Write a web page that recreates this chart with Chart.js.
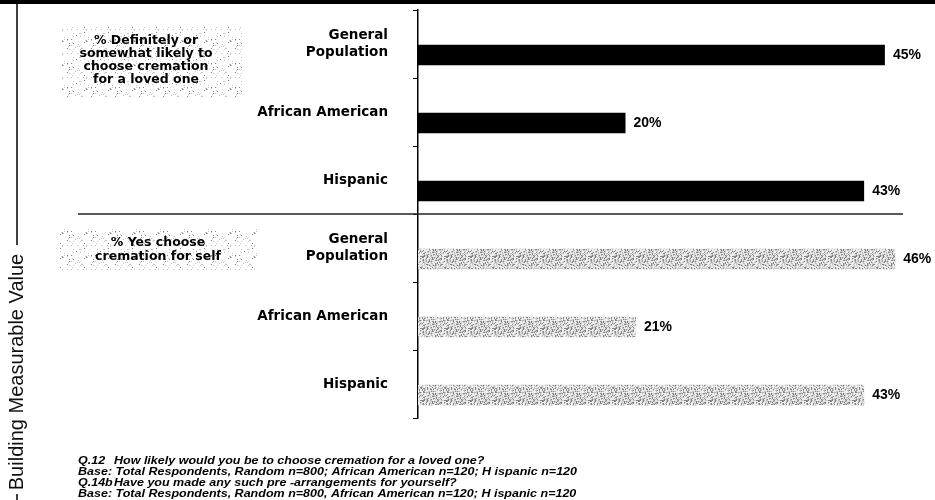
<!DOCTYPE html>
<html>
<head>
<meta charset="utf-8">
<script src="https://cdn.jsdelivr.net/npm/chart.js@4.4.1/dist/chart.umd.min.js"></script>
<style>
  html, body { margin: 0; padding: 0; background: #fff; }
  #wrap { width: 935px; height: 500px; }
</style>
</head>
<body>
<div id="wrap"><canvas id="myChart" width="935" height="500"></canvas></div>
<script>
// data
const categories = [['General', 'Population'], 'African American', 'Hispanic',
                    ['General', 'Population'], 'African American', 'Hispanic'];
const lovedOne = [45, 20, 43];
const forSelf = [46, 21, 43];
const groupTitles = [
    ['% Definitely or', 'somewhat likely to', 'choose cremation', 'for a loved one'],
    ['% Yes choose', 'cremation for self']
];
const sideTitle = 'Building Measurable Value';
const footnotes = [
    ['Q.12', 'How likely would you be to choose cremation for a loved one?'],
    ['', 'Base: Total Respondents, Random n=800; African American n=120; H ispanic n=120'],
    ['Q.14b', 'Have you made any such pre -arrangements for yourself?'],
    ['', 'Base: Total Respondents, Random n=800, African American n=120; H ispanic n=120']
];

const values = lovedOne.concat(forSelf);

// stippled fill like the old scanned slide
function hash(x, y) {
    let h = Math.imul(x + 1, 374761393) ^ Math.imul(y + 7, 668265263);
    h = Math.imul(h ^ (h >>> 13), 1274126177);
    return ((h ^ (h >>> 16)) >>> 0) % 100;
}
function makePattern(ctx, dark, mid, base) {
    const c = document.createElement('canvas');
    c.width = 24; c.height = 24;
    const p = c.getContext('2d');
    if (base) { p.fillStyle = base; p.fillRect(0, 0, 24, 24); }
    for (let y = 0; y < 24; y++) {
        for (let x = 0; x < 24; x++) {
            const h = hash(x, y);
            if (h < dark) { p.fillStyle = '#858585'; p.fillRect(x, y, 1, 1); }
            else if (h < mid) { p.fillStyle = '#c2c2c2'; p.fillRect(x, y, 1, 1); }
        }
    }
    return ctx.createPattern(c, 'repeat');
}

const canvas = document.getElementById('myChart');
const ctx = canvas.getContext('2d');
const barStipple = makePattern(ctx, 18, 45, '#ececec');
const boxStipple = makePattern(ctx, 2, 7, null);
const barColors = values.map((v, i) => i < lovedOne.length ? '#000000' : barStipple);

const decor = {
    id: 'decor',
    beforeDraw(chart) {
        const c = chart.ctx;
        c.save();
        c.fillStyle = '#fff';
        c.fillRect(0, 0, chart.width, chart.height);
        // top band
        c.fillStyle = '#000';
        c.fillRect(0, 0, chart.width, 4);
        // left frame with side title
        c.strokeStyle = '#000';
        c.lineWidth = 1.5;
        c.beginPath();
        c.moveTo(17, 4); c.lineTo(17, 245);
        c.moveTo(17, 494); c.lineTo(17, 500);
        c.stroke();
        c.save();
        c.translate(17, 372);
        c.rotate(-Math.PI / 2);
        c.font = '20px "Liberation Sans", Arial';
        c.textAlign = 'center';
        c.textBaseline = 'middle';
        c.fillStyle = '#111';
        c.fillText(sideTitle, 0, 0);
        c.restore();
        // group title boxes
        c.fillStyle = boxStipple;
        c.fillRect(62, 27, 180, 70);
        c.fillRect(60, 229, 198, 41);
        c.fillStyle = '#000';
        c.font = 'bold 12.5px "DejaVu Sans"';
        c.textAlign = 'center';
        c.textBaseline = 'middle';
        groupTitles[0].forEach((t, i) => c.fillText(t, 146, 41 + i * 13));
        groupTitles[1].forEach((t, i) => c.fillText(t, 158, 243 + i * 14));
        // footnotes
        c.font = 'italic bold 10px "Liberation Sans", Arial';
        c.textAlign = 'left';
        c.textBaseline = 'middle';
        const k = 499 / c.measureText(footnotes[1][1]).width;
        footnotes.forEach((f, i) => {
            const y = 461 + i * 11;
            if (f[0]) {
                c.save(); c.translate(78, y); c.scale(k, 1); c.fillText(f[0], 0, 0); c.restore();
            }
            c.save(); c.translate(f[0] ? 114 : 78, y); c.scale(k, 1); c.fillText(f[1], 0, 0); c.restore();
        });
        c.restore();
    },
    afterDatasetsDraw(chart) {
        const c = chart.ctx;
        const yScale = chart.scales.y;
        c.save();
        // separator between the two questions
        const sepY = (yScale.getPixelForTick(2) + yScale.getPixelForTick(3)) / 2;
        c.strokeStyle = '#222';
        c.lineWidth = 1.5;
        c.beginPath();
        c.moveTo(78, sepY); c.lineTo(903, sepY);
        c.stroke();
        // value labels
        c.fillStyle = '#000';
        c.font = 'bold 14px "Liberation Sans", Arial';
        c.textAlign = 'left';
        c.textBaseline = 'middle';
        chart.getDatasetMeta(1).data.forEach((bar, i) => {
            c.fillText(values[i] + '%', bar.x + 8, bar.y);
        });
        c.restore();
    }
};

new Chart(ctx, {
    type: 'bar',
    data: {
        labels: categories,
        datasets: [
            {
                // empty slot so the bars sit low in each band
                data: categories.map(() => null),
                categoryPercentage: 0.647,
                barPercentage: 0.93
            },
            {
                data: values,
                backgroundColor: barColors,
                borderWidth: 0,
                categoryPercentage: 0.647,
                barPercentage: 0.93
            }
        ]
    },
    options: {
        indexAxis: 'y',
        responsive: false,
        animation: false,
        layout: { padding: { left: 0, top: 10, right: 19, bottom: 82 } },
        plugins: {
            legend: { display: false },
            tooltip: { enabled: false }
        },
        scales: {
            x: { display: false, min: 0, max: 48 },
            y: {
                afterFit: (scale) => {
                    scale.width = 418;
                    scale.paddingTop = 0;
                    scale.paddingBottom = 0;
                },
                border: { color: '#000', width: 1.5 },
                grid: {
                    drawOnChartArea: false,
                    drawTicks: true,
                    tickLength: 5,
                    tickColor: '#000',
                    offset: true
                },
                ticks: {
                    color: '#000',
                    crossAlign: 'near',
                    padding: 25,
                    font: { family: '"DejaVu Sans"', weight: 'bold', size: 13.5 }
                }
            }
        }
    },
    plugins: [decor]
});
</script>
</body>
</html>
